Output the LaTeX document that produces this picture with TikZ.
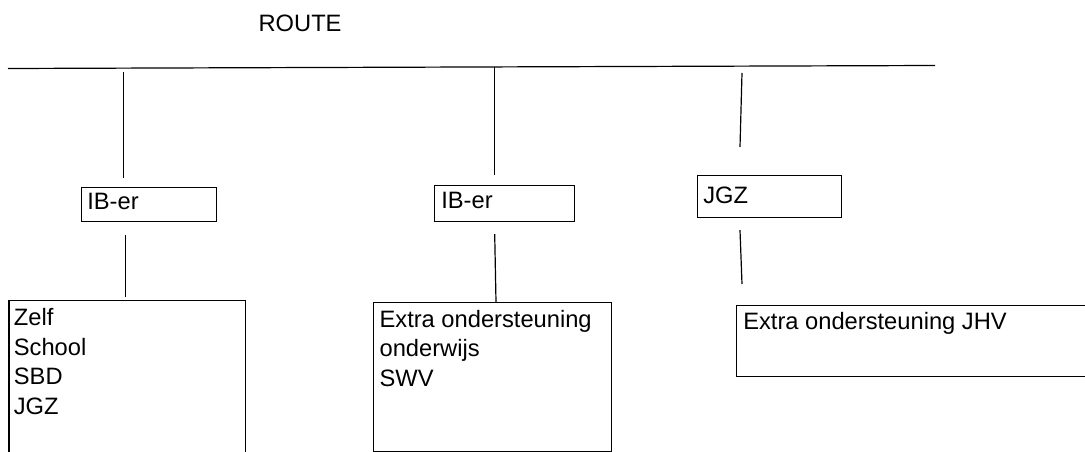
\documentclass[tikz,border=0pt]{standalone}
\usepackage{fontspec}
\setmainfont{Liberation Sans}
\begin{document}
\begin{tikzpicture}[x=1pt,y=-1pt,
  line width=1.2pt,
  box/.style={draw, line width=1.2pt, inner sep=0pt, anchor=north west},
  txt/.style={inner sep=0pt, anchor=north west, align=left,
    font=\fontsize{23.7}{29.6}\selectfont},
  conn/.style={line width=1.2pt}]
\useasboundingbox (0,0) rectangle (1085,452);
\clip (0,0) rectangle (1085,452);
\fill[white] (0,0) rectangle (1085,452);

\node[txt, anchor=base west] (route) at (258,32) {ROUTE};

\coordinate (L) at (8,68.5);
\coordinate (R) at (935,65.5);
\draw[conn] (L) -- (R);

% level 1 boxes
\node[box, minimum width=135.3, minimum height=34.3] (ib1) at (80.7,186.7) {};
\node[txt] (ib1t) at ([shift={(6,6)}]ib1.north west) {IB-er};
\node[box, minimum width=140, minimum height=36] (ib2) at (434,185) {};
\node[txt] (ib2t) at ([shift={(6.7,6.7)}]ib2.north west) {IB-er};
\node[box, minimum width=144, minimum height=42] (jgz) at (697,175) {};
\node[txt] (jgzt) at ([shift={(5.7,11)}]jgz.north west) {JGZ};

% level 2 boxes
\node[box, minimum width=236.7, minimum height=200] (b1) at (8.3,300) {};
\node[txt] (b1t) at ([shift={(5,8)}]b1.north west) {Zelf\\School\\SBD\\JGZ};
\node[box, minimum width=238, minimum height=149] (b2) at (373,302) {};
\node[txt] (b2t) at ([shift={(6,7.3)}]b2.north west) {Extra ondersteuning\\onderwijs\\SWV};
\node[box, minimum width=400, minimum height=71] (b3) at (736,305) {};
\node[txt] (b3t) at ([shift={(6.7,6.7)}]b3.north west) {Extra ondersteuning JHV};

% connectors top line -> level 1
\coordinate (t1) at (123.3,72);
\draw[conn] (t1) -- ([xshift=42.6pt,yshift=8.7pt]ib1.north west);
\coordinate (t2) at (494.3,67);
\draw[conn] (t2) -- ([xshift=60.3pt,yshift=10pt]ib2.north west);
\coordinate (t3) at (742,73);
\draw[conn] (t3) -- ([xshift=43pt,yshift=28pt]jgz.north west);

% connectors level 1 -> level 2
\draw[conn] ([xshift=45pt,yshift=-12.3pt]ib1.south west) -- ([xshift=117.4pt,yshift=3.3pt]b1.north west);
\draw[conn] ([xshift=60.7pt,yshift=-12pt]ib2.south west) -- ([xshift=123pt]b2.north west);
\draw[conn] ([xshift=43pt,yshift=-12pt]jgz.south west) -- ([xshift=6pt,yshift=21pt]b3.north west);
\end{tikzpicture}
\end{document}
